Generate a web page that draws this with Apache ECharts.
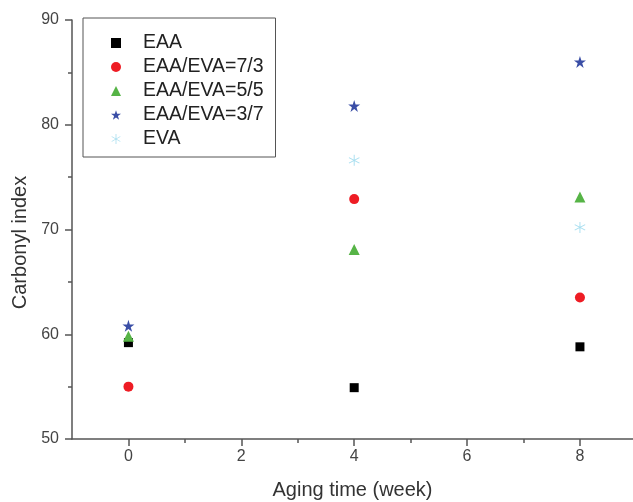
<!DOCTYPE html>
<html>
<head>
<meta charset="utf-8">
<script src="https://cdn.jsdelivr.net/npm/echarts@6/dist/echarts.min.js"></script>
<style>html,body{margin:0;padding:0;background:#fff;}#c{width:633px;height:502px;}</style>
</head>
<body>
<div id="c"></div>
<script>
// Data
var weeks = [0, 4, 8];
var seriesNames = ['EAA', 'EAA/EVA=7/3', 'EAA/EVA=5/5', 'EAA/EVA=3/7', 'EVA'];
var eaa = [59.2, 54.9, 58.8];
var eaa73 = [55.0, 72.9, 63.5];
var eaa55 = [59.8, 68.1, 73.1];
var eaa37 = [60.8, 81.8, 86.0];
var eva = [null, 76.6, 70.2];
var xMajorTicks = [0, 2, 4, 6, 8];
var xMinorTicks = [1, 3, 5, 7];

var STAR = 'path://M50,0 L61.2,34.5 L97.6,34.5 L68.2,55.9 L79.4,90.5 L50,69.1 L20.6,90.5 L31.8,55.9 L2.4,34.5 L38.8,34.5 Z';
var AST = 'path://M46,0 L54,0 L54,100 L46,100 Z M4.7,28.46 L8.7,21.54 L95.3,71.54 L91.3,78.46 Z M8.7,78.46 L4.7,71.54 L91.3,21.54 L95.3,28.46 Z';

function pts(vals) {
  var out = [];
  for (var i = 0; i < weeks.length; i++) {
    if (vals[i] != null) out.push([weeks[i], vals[i]]);
  }
  return out;
}

var chart = echarts.init(document.getElementById('c'), null, {renderer: 'canvas'});
var axisColor = '#555';
var labelColor = '#444';
var FONT = 'Liberation Sans, Arial, sans-serif';
var option = {
  animation: false,
  backgroundColor: '#fff',
  grid: {left: 72, top: 20, right: 0, bottom: 63, containLabel: false, outerBoundsMode: 'none'},
  legend: {
    orient: 'vertical',
    left: 83, top: 18,
    padding: [15, 12, 8, 28],
    borderColor: '#555', borderWidth: 1,
    itemWidth: 10, itemHeight: 10, itemGap: 4,
    textStyle: {fontFamily: FONT, fontSize: 19.5, color: '#222', lineHeight: 20, padding: [0, 0, 0, 17]},
    data: seriesNames
  },
  xAxis: [{
    type: 'value', min: -1, max: 8.94, interval: 1,
    name: 'Aging time (week)', nameLocation: 'middle', nameGap: 41,
    nameTextStyle: {fontFamily: FONT, fontSize: 20, color: '#333'},
    axisLine: {show: true, onZero: false, lineStyle: {color: axisColor, width: 1.5}},
    axisTick: {show: true, inside: false, length: 7, customValues: xMajorTicks, lineStyle: {color: axisColor, width: 1.5}},
    axisLabel: {show: true, margin: 10, customValues: xMajorTicks, fontFamily: FONT, fontSize: 16, color: labelColor},
    splitLine: {show: false}
  }, {
    type: 'value', min: -1, max: 8.94, position: 'bottom',
    axisLine: {show: false, onZero: false},
    axisTick: {show: true, length: 4, customValues: xMinorTicks, lineStyle: {color: axisColor, width: 1.5}},
    axisLabel: {show: false},
    splitLine: {show: false}
  }],
  yAxis: {
    type: 'value', min: 50, max: 90, interval: 10,
    name: 'Carbonyl index', nameLocation: 'middle', nameGap: 34,
    nameTextStyle: {fontFamily: FONT, fontSize: 20, color: '#333', padding: [0, 26, 0, 0]},
    axisLine: {show: true, onZero: false, lineStyle: {color: axisColor, width: 1.5}},
    axisTick: {show: true, inside: false, length: 7, lineStyle: {color: axisColor, width: 1.5}},
    minorTick: {show: true, splitNumber: 2, length: 4, lineStyle: {color: axisColor, width: 1.5}},
    axisLabel: {margin: 13, fontFamily: FONT, fontSize: 16, color: labelColor},
    splitLine: {show: false}
  },
  series: [
    {name: seriesNames[0], type: 'scatter', symbol: 'rect', symbolSize: 9, itemStyle: {color: '#000000', opacity: 1}, data: pts(eaa)},
    {name: seriesNames[1], type: 'scatter', symbol: 'circle', symbolSize: 10, itemStyle: {color: '#ee1c24', opacity: 1}, data: pts(eaa73)},
    {name: seriesNames[2], type: 'scatter', symbol: 'triangle', symbolSize: 11, itemStyle: {color: '#56b446', opacity: 1}, data: pts(eaa55)},
    {name: seriesNames[3], type: 'scatter', symbol: STAR, symbolSize: 12, itemStyle: {color: '#3a4ea6', opacity: 1}, data: pts(eaa37)},
    {name: seriesNames[4], type: 'scatter', symbol: AST, symbolSize: 11, itemStyle: {color: '#a9dff0', opacity: 1}, data: pts(eva)}
  ]
};
chart.setOption(option);
</script>
</body>
</html>
